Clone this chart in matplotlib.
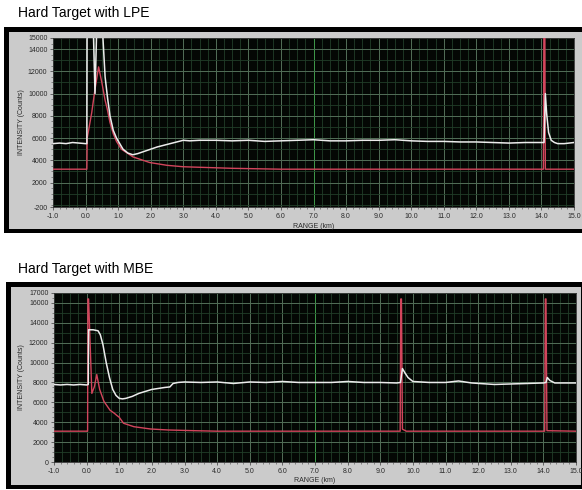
import numpy as np
import matplotlib
matplotlib.use('Agg')
import matplotlib.pyplot as plt
from matplotlib.patches import Rectangle
from matplotlib.ticker import MultipleLocator, FixedLocator

plt.rcParams['font.family'] = ['Liberation Sans', 'DejaVu Sans']

# ---- data (range in km, intensity in counts) ----
lpe_white_x = [-1.0, -0.8, -0.6, -0.4, -0.2, 0.0, 0.04, 0.05, 0.20, 0.29, 0.38, 0.50, 0.53,
               0.60, 0.68, 0.75, 0.85, 0.95, 1.05, 1.15, 1.30, 1.45, 1.60, 1.80, 2.00, 2.20,
               2.40, 2.60, 2.80, 3.00, 3.20, 3.50, 4.00, 4.50, 5.00, 5.50, 6.00, 6.50, 7.00,
               7.50, 8.00, 8.50, 9.00, 9.50, 10.0, 10.5, 11.0, 11.5, 12.0, 12.5, 13.0, 13.5,
               14.0, 14.08, 14.12, 14.16, 14.22, 14.30, 14.40, 14.50, 14.70, 15.0]
lpe_white_y = [5500, 5550, 5500, 5600, 5550, 5500, 5500, 20000, 20000, 10000, 20000, 20000, 15200,
               11500, 9500, 8000, 6700, 6000, 5500, 5000, 4650, 4500, 4600, 4800, 5000, 5200,
               5350, 5500, 5650, 5800, 5750, 5800, 5800, 5750, 5800, 5700, 5750, 5800, 5850,
               5750, 5750, 5800, 5800, 5850, 5750, 5700, 5700, 5650, 5650, 5600, 5550, 5600,
               5600, 5600, 10000, 8200, 6500, 5800, 5600, 5500, 5500, 5600]

lpe_red_x = [-1.0, 0.0, 0.04, 0.05, 0.19, 0.28, 0.40, 0.50, 0.60, 0.66, 0.75, 0.85, 0.95,
             1.10, 1.46, 1.97, 2.50, 3.00, 4.50, 6.00, 14.06, 14.08, 14.10, 14.12, 15.0]
lpe_red_y = [3200, 3200, 3200, 6000, 8300, 10200, 12400, 11000, 9400, 8700, 7400, 6400, 5700,
             5000, 4300, 3800, 3550, 3420, 3280, 3200, 3200, 20000, 20000, 3200, 3200]

mbe_white_x = [-1.0, -0.8, -0.6, -0.4, -0.2, 0.0, 0.05, 0.06, 0.20, 0.35, 0.42, 0.50, 0.60,
               0.70, 0.80, 0.90, 1.00, 1.10, 1.20, 1.40, 1.60, 1.80, 2.00, 2.20, 2.40, 2.55,
               2.65, 2.80, 3.00, 3.50, 4.00, 4.50, 5.00, 5.50, 6.00, 6.50, 7.00, 7.50, 8.00,
               8.50, 9.00, 9.50, 9.62, 9.68, 9.75, 9.85, 10.0, 10.5, 11.0, 11.4, 11.8, 12.5,
               13.0, 13.5, 14.0, 14.08, 14.12, 14.20, 14.35, 14.70, 15.0]
mbe_white_y = [7800, 7750, 7800, 7750, 7800, 7750, 7800, 13300, 13300, 13200, 12800, 11800, 10000,
               8500, 7300, 6700, 6400, 6350, 6400, 6600, 6900, 7100, 7300, 7400, 7500, 7550,
               7900, 8000, 8050, 8000, 8050, 7900, 8050, 8000, 8100, 8000, 8000, 8000, 8100,
               8000, 8000, 7950, 8000, 9400, 9000, 8500, 8100, 8000, 8000, 8150, 7950, 7800,
               7850, 7900, 7950, 8000, 8500, 8200, 7950, 7950, 7950]

mbe_red_x = [-1.0, 0.0, 0.03, 0.04, 0.06, 0.16, 0.24, 0.31, 0.40, 0.53, 0.72, 0.85, 0.92,
             1.00, 1.13, 1.45, 1.96, 2.50, 3.30, 4.00, 9.61, 9.63, 9.65, 9.68, 9.80, 14.04,
             14.06, 14.08, 14.11, 15.0]
mbe_red_y = [3100, 3100, 3100, 16400, 16400, 6900, 7600, 8800, 7300, 6100, 5200, 4900, 4700,
             4500, 3900, 3550, 3320, 3220, 3150, 3100, 3100, 16400, 16400, 3300, 3100, 3100,
             16400, 16400, 3150, 3100]

x_major = np.arange(-1.0, 15.01, 1.0)
x_labels = [f'{v:.1f}' for v in x_major]
lpe_yticks = [-200, 2000, 4000, 6000, 8000, 10000, 12000, 14000, 15000]
mbe_yticks = [0, 2000, 4000, 6000, 8000, 10000, 12000, 14000, 16000, 17000]

W, H = 582, 490
fig = plt.figure(figsize=(W / 100, H / 100), dpi=100)
fig.patch.set_facecolor('white')


def box(x0, y0, x1, y1, color):
    # rectangle given in pixel coords (top-left origin)
    fig.add_artist(Rectangle((x0 / W, 1 - y1 / H), (x1 - x0) / W, (y1 - y0) / H,
                             transform=fig.transFigure, facecolor=color,
                             edgecolor='none', zorder=0))


def panel(title, ty, frame, gray_right, area, ylim, yticks, wx, wy, rx, ry, xlab_y):
    fig.text(18 / W, 1 - ty / H, title, fontsize=10, va='baseline', ha='left')
    box(*frame, '#000000')
    fx0, fy0, fx1, fy1 = frame
    box(fx0 + 5, fy0 + 5, gray_right, fy1 - 4, '#cbcbcb')
    x0, y0, x1, y1 = area
    ax = fig.add_axes([x0 / W, 1 - y1 / H, (x1 - x0) / W, (y1 - y0) / H])
    ax.set_facecolor('#040704')
    ax.set_xlim(-1.0, 15.0)
    ax.set_ylim(*ylim)

    # grid
    for v in np.arange(-1.0, 15.01, 0.25):
        ax.axvline(v, color='#213d28', lw=0.6, zorder=1)
    for v in x_major:
        c = '#3f9a4a' if abs(v - 7.0) < 1e-6 else '#526d57'
        ax.axvline(v, color=c, lw=0.7, zorder=1)
    for v in np.arange(0, ylim[1] + 1, 1000):
        ax.axhline(v, color='#213d28', lw=0.6, zorder=1)
    for v in yticks:
        ax.axhline(v, color='#526d57', lw=0.7, zorder=1)

    ax.plot(rx, ry, color='#d2455c', lw=1.0, zorder=3)
    ax.plot(wx, wy, color='#ececec', lw=1.1, zorder=4)

    ax.xaxis.set_major_locator(FixedLocator(x_major))
    ax.set_xticklabels(x_labels)
    ax.xaxis.set_minor_locator(MultipleLocator(0.2))
    ax.yaxis.set_major_locator(FixedLocator(yticks))
    ax.set_yticklabels([str(v) for v in yticks])
    ax.yaxis.set_minor_locator(MultipleLocator(500))
    ax.tick_params(which='major', length=2.5, width=0.6, color='#505050',
                   labelsize=5.0, labelcolor='#2a2a2a', pad=1.5)
    ax.tick_params(which='minor', length=1.5, width=0.5, color='#606060')
    for s in ax.spines.values():
        s.set_color('#303030')
        s.set_linewidth(0.6)

    fig.text(22 / W, 1 - (y0 + y1) / 2 / H, 'INTENSITY (Counts)', rotation=90,
             fontsize=5, color='#2a2a2a', ha='center', va='center')
    fig.text((x0 + x1) / 2 / W, 1 - xlab_y / H, 'RANGE (km)', fontsize=5,
             color='#2a2a2a', ha='center', va='center')
    return ax


panel('Hard Target with LPE', 17, (4, 27, 582, 233), 582, (53, 38, 574, 207),
      (-200, 15000), lpe_yticks, lpe_white_x, lpe_white_y, lpe_red_x, lpe_red_y, 226)
panel('Hard Target with MBE', 273, (6, 282, 582, 489), 581, (54, 293, 576, 462),
      (0, 17000), mbe_yticks, mbe_white_x, mbe_white_y, mbe_red_x, mbe_red_y, 480)

fig.savefig('out.png', dpi=100)
